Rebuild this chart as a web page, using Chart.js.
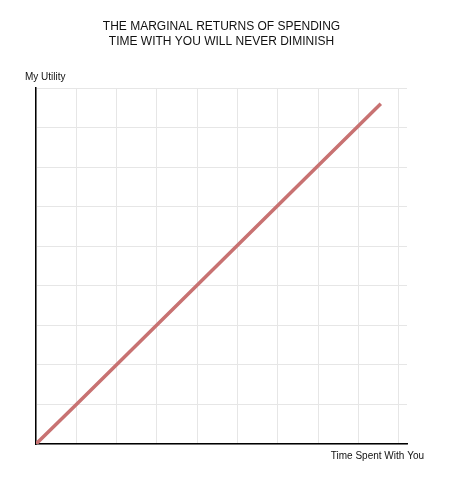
<!DOCTYPE html>
<html>
<head>
<meta charset="utf-8">
<script src="https://cdn.jsdelivr.net/npm/chart.js@4/dist/chart.umd.min.js"></script>
<style>
html,body{margin:0;padding:0;background:#fff;}
#wrap{width:464px;height:485px;}
</style>
</head>
<body>
<div id="wrap"><canvas id="c" width="464" height="485"></canvas></div>
<script>
const titleLines = ["THE MARGINAL RETURNS OF SPENDING", "TIME WITH YOU WILL NEVER DIMINISH"];
const xAxisLabel = "Time Spent With You";
const yAxisLabel = "My Utility";
const timeValues = [0, 1, 8.55];
const utilityValues = [0, 1, 8.6];
const gridTicks = [0, 1, 2, 3, 4, 5, 6, 7, 8, 9];

const points = timeValues.map((t, i) => ({x: t, y: utilityValues[i]}));
const FONT = "'Liberation Sans', Arial, Helvetica, sans-serif";

const axisText = {
  id: 'axisText',
  afterDraw(chart) {
    const ctx = chart.ctx, a = chart.chartArea;
    ctx.save();
    ctx.fillStyle = '#111';
    ctx.font = "10px " + FONT;
    ctx.textBaseline = 'middle';
    ctx.textAlign = 'left';
    ctx.fillText(yAxisLabel, a.left - 11, a.top - 11);
    ctx.textAlign = 'right';
    ctx.fillText(xAxisLabel, a.right + 17, a.bottom + 12);
    ctx.restore();
  }
};

new Chart(document.getElementById('c'), {
  type: 'scatter',
  data: {
    datasets: [{
      data: points,
      showLine: true,
      borderColor: '#c87272',
      borderWidth: 3.5,
      pointRadius: 0,
      tension: 0,
      fill: false
    }]
  },
  options: {
    responsive: false,
    animation: false,
    devicePixelRatio: 1,
    layout: {padding: {left: 36, right: 57, top: 0, bottom: 41}},
    plugins: {
      legend: {display: false},
      tooltip: {enabled: false},
      title: {
        display: true,
        text: titleLines,
        color: '#111',
        font: {family: FONT, size: 12, weight: 'normal', lineHeight: 1.25},
        padding: {top: 19, bottom: 39}
      }
    },
    scales: {
      x: {
        type: 'linear', min: 0, max: 9.2,
        afterBuildTicks: (s) => { s.ticks = gridTicks.map(v => ({value: v})); },
        ticks: {display: false},
        grid: {color: '#e6e6e6', lineWidth: 1, drawTicks: false},
        border: {color: '#000', width: 1.5}
      },
      y: {
        type: 'linear', min: 0, max: 9,
        afterBuildTicks: (s) => { s.ticks = gridTicks.map(v => ({value: v})); },
        ticks: {display: false},
        grid: {color: '#e6e6e6', lineWidth: 1, drawTicks: false},
        border: {color: '#000', width: 1.5}
      }
    }
  },
  plugins: [axisText]
});
</script>
</body>
</html>
